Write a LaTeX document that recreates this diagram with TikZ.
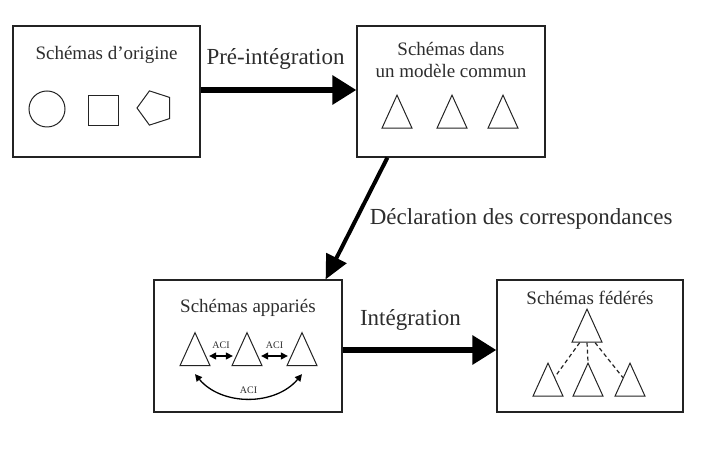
\documentclass[tikz,border=0pt]{standalone}
\usepackage{fontspec}
\setmainfont{Liberation Serif}
\usetikzlibrary{
  shapes.geometric,
  arrows.meta,
  positioning,
  calc
}
\definecolor{inkcolor}{RGB}{35, 35, 35}
\definecolor{textcolor}{RGB}{45, 45, 45}
\tikzset{
schemabox/.style={
  draw=inkcolor,
  line width=1.2pt,
  minimum width=187pt,
  minimum height=131pt,
  inner sep=0pt
},
boxtitle/.style={
  font=\fontsize{19}{22}\selectfont,
  text=textcolor,
  align=center
},
steplabel/.style={
  font=\fontsize{23}{27}\selectfont,
  text=textcolor
},
acilabel/.style={
  font=\fontsize{10}{11}\selectfont,
  text=textcolor,
  inner sep=1pt
},
shapeline/.style={
  draw=inkcolor,
  line width=1pt
},
tri/.style={
  shapeline,
  isosceles triangle,
  isosceles triangle stretches,
  shape border rotate=90,
  minimum width=30pt,
  minimum height=33pt,
  inner sep=0pt
},
bigarrow/.style={
  -{Triangle[length=24pt,width=28pt]},
  line width=6pt,
  draw=black
},
diagarrow/.style={
  -{Triangle[length=24pt,width=22pt]},
  line width=4pt,
  draw=black
},
aciarrow/.style={
  {Triangle[length=7pt,width=7pt]}-{Triangle[length=7pt,width=7pt]},
  line width=1.3pt,
  draw=black,
  shorten <=3pt,
  shorten >=3pt
},
linkline/.style={
  draw=inkcolor,
  line width=1.2pt,
  dash pattern=on 4pt off 3pt
}
}

\begin{document}
\begin{tikzpicture}[x=1pt,y=1pt]
  \useasboundingbox (0,0) rectangle (706,452);

  % the four boxes
  \node[schemabox] (origine) at (106.5,360.5) {};
  \node[schemabox, minimum width=188pt] (commun) at (451,360.5) {};
  \node[schemabox, minimum width=188pt, minimum height=132pt] (apparies) at (248,106) {};
  \node[schemabox, minimum width=186pt, minimum height=132pt] (federes) at (590,106) {};

  \node[boxtitle] (origine title) at ([yshift=-30pt]origine.north) {Schémas d'origine};
  \node[boxtitle] (commun title) at ([yshift=-35pt]commun.north) {Schémas dans\\un modèle commun};
  \node[boxtitle] (apparies title) at ([yshift=-29pt]apparies.north) {Schémas appariés};
  \node[boxtitle] (federes title) at ([yshift=-19pt]federes.north) {Schémas fédérés};

  % original schemas
  \node[shapeline, circle, minimum size=36pt, inner sep=0pt] (rond) at (47,343) {};
  \node[shapeline, rectangle, minimum size=30pt, inner sep=0pt] (carre) at (103,341) {};
  \node[shapeline, regular polygon, regular polygon sides=5, shape border rotate=90,
    minimum size=36pt, inner sep=0pt] (penta) at (155,344) {};

  % common model
  \foreach \x [count=\i] in {397,452,503}
    \node[tri] (c\i) at (\x,333.5) {};

  % matched schemas
  \node[tri] (a1) at (195,96) {};
  \node[tri] (a2) at (247,96) {};
  \node[tri] (a3) at (302,96) {};
  \draw[aciarrow] (a1) -- node[acilabel, above=6pt] {ACI} (a2);
  \draw[aciarrow] (a2) -- node[acilabel, above=6pt] {ACI} (a3);
  \draw[aciarrow, shorten <=0pt, shorten >=0pt] ([yshift=-8pt]a1.south) to[bend right=50]
    node[acilabel, above=3pt] {ACI} ([yshift=-8pt]a3.south);

  % federated schemas
  \node[tri] (ftop) at (587,119.5) {};
  \node[tri] (fleft) at (548,65.5) {};
  \node[tri] (fmid) at (588,65.5) {};
  \node[tri] (fright) at (630,65.5) {};
  \draw[linkline] (ftop) -- (fleft);
  \draw[linkline] (ftop.south) -- (fmid.north);
  \draw[linkline] (ftop) -- (fright);

  % steps
  \draw[bigarrow] ([yshift=1.5pt]origine.east) -- node[steplabel, above=14pt, xshift=-3pt] {Pré-intégration} ([yshift=1.5pt]commun.west);
  \draw[diagarrow] ([xshift=31pt]commun.south west) -- node[steplabel, right=8pt] {Déclaration des correspondances} ([xshift=-17pt]apparies.north east);
  \draw[bigarrow] ([yshift=-4pt]apparies.east) -- node[steplabel, above=13pt, xshift=-9pt] {Intégration} ([yshift=-4pt]federes.west);
\end{tikzpicture}
\end{document}
